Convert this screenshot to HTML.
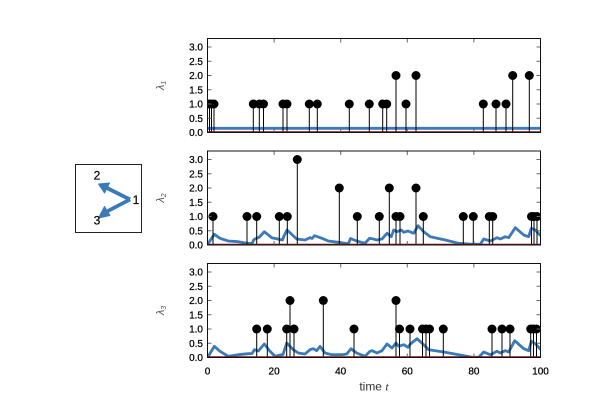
<!DOCTYPE html>
<html><head><meta charset="utf-8"><style>
html,body{margin:0;padding:0;background:#fff;}
svg{display:block;}
text{font-family:"Liberation Sans",sans-serif;}
</style></head><body>
<svg width="600" height="400" viewBox="0 0 600 400" xmlns="http://www.w3.org/2000/svg">
<rect width="600" height="400" fill="#fff"/>
<defs>
<clipPath id="c0"><rect x="207.5" y="38.5" width="333" height="94"/></clipPath>
<clipPath id="c1"><rect x="207.5" y="151" width="333" height="94"/></clipPath>
<clipPath id="c2"><rect x="207.5" y="263.5" width="333" height="94"/></clipPath>
</defs>

<!-- Network diagram -->
<rect x="75.5" y="164.5" width="66" height="68" fill="none" stroke="#222" stroke-width="1"/>
<g fill="#3a7ab8" stroke="#3a7ab8" stroke-linejoin="round">
<line x1="130" y1="199.5" x2="106" y2="187.5" stroke-width="3.8"/>
<polygon points="98.5,184 109.5,183 104.5,193" stroke-width="1"/>
<line x1="130" y1="199.5" x2="106" y2="212" stroke-width="3.8"/>
<polygon points="98.5,218 104.5,206.5 110,215.5" stroke-width="1"/>
</g>
<g font-size="12" text-anchor="middle" fill="#000" stroke="#000" stroke-width="0.2">
<text x="97" y="179.5">2</text>
<text x="136" y="204">1</text>
<text x="97" y="224.5">3</text>
</g>

<!-- ===== Panel 0 ===== -->
<g clip-path="url(#c0)">
<line x1="207.5" y1="128.3" x2="540.5" y2="128.3" stroke="#3a7ab8" stroke-width="2.8"/>
<g transform="translate(0,38.5)">
<path fill="none" stroke="#000" stroke-width="1" d="M209.5 94V65.5M211.5 94V65.5M214 94V65.5M253.3 94V65.5M259.3 94V65.5M263.5 94V65.5M283 94V65.5M287 94V65.5M309.3 94V65.5M317.3 94V65.5M349.3 94V65.5M369.3 94V65.5M382.7 94V65.5M386.7 94V65.5M396 94V37M406 94V65.5M416 94V37M483.3 94V65.5M496 94V65.5M506 94V65.5M512.7 94V37M529.3 94V37"/>
<line x1="207.5" y1="93.5" x2="540.5" y2="93.5" stroke="#7a1010" stroke-width="1.5"/>
<g fill="#000">
<circle cx="209.5" cy="65.5" r="4.5"/><circle cx="211.5" cy="65.5" r="4.5"/><circle cx="214" cy="65.5" r="4.5"/>
<circle cx="253.3" cy="65.5" r="4.5"/><circle cx="259.3" cy="65.5" r="4.5"/><circle cx="263.5" cy="65.5" r="4.5"/>
<circle cx="283" cy="65.5" r="4.5"/><circle cx="287" cy="65.5" r="4.5"/>
<circle cx="309.3" cy="65.5" r="4.5"/><circle cx="317.3" cy="65.5" r="4.5"/>
<circle cx="349.3" cy="65.5" r="4.5"/><circle cx="369.3" cy="65.5" r="4.5"/>
<circle cx="382.7" cy="65.5" r="4.5"/><circle cx="386.7" cy="65.5" r="4.5"/>
<circle cx="396" cy="37" r="4.5"/><circle cx="406" cy="65.5" r="4.5"/><circle cx="416" cy="37" r="4.5"/>
<circle cx="483.3" cy="65.5" r="4.5"/><circle cx="496" cy="65.5" r="4.5"/><circle cx="506" cy="65.5" r="4.5"/>
<circle cx="512.7" cy="37" r="4.5"/><circle cx="529.3" cy="37" r="4.5"/>
</g>
</g>
</g>

<!-- ===== Panel 1 ===== -->
<g clip-path="url(#c1)">
<polyline fill="none" stroke="#3a7ab8" stroke-width="2.8" stroke-linejoin="round" points="207.5,244.5 208.3,243.3 214.3,234.3 220,238.3 228.3,241 238.3,241.7 246.7,243.3 252,243.5 254,239.5 259.5,237 264.3,231.7 271.7,237.7 279,239.3 282.5,240 284,236 287,230 296.7,239 305,240 310,237.7 312,238.5 314.5,235.7 322,238.3 328.3,241 338.3,242.3 348.3,243.7 350.5,238.5 356.7,241 365,243.3 369.5,238.3 372,238.7 377,240 382,239 387,233.3 391.3,236.7 393.7,230 397,231.7 401.3,230 403.7,232.3 408,231 413.7,233.3 418,225.7 423.7,231.7 430.3,236.7 445.3,240 458.7,243.3 472,244.3 480.3,244.3 483.7,239 490.3,241 497,237.7 500.3,239 505.3,236.7 508.7,237.7 515.3,227.7 523.7,235 528.7,236.7 531.3,228.3 535.3,230 540.5,235.7"/>
<g transform="translate(0,151)">
<path fill="none" stroke="#000" stroke-width="1" d="M213 94V65.5M247 94V65.5M256.7 94V65.5M279.3 94V65.5M287.3 94V65.5M297.3 94V8.5M339.3 94V37M357.3 94V65.5M379.3 94V65.5M389.3 94V37M396 94V65.5M400 94V65.5M416 94V37M423.3 94V65.5M463.3 94V65.5M473.3 94V65.5M489.3 94V65.5M492.7 94V65.5M531.5 94V65.5M534 94V65.5M537 94V65.5"/>
<line x1="207.5" y1="93.5" x2="540.5" y2="93.5" stroke="#7a1010" stroke-width="1.5"/>
<g fill="#000">
<circle cx="213" cy="65.5" r="4.5"/><circle cx="247" cy="65.5" r="4.5"/><circle cx="256.7" cy="65.5" r="4.5"/>
<circle cx="279.3" cy="65.5" r="4.5"/><circle cx="287.3" cy="65.5" r="4.5"/><circle cx="297.3" cy="8.5" r="4.5"/>
<circle cx="339.3" cy="37" r="4.5"/><circle cx="357.3" cy="65.5" r="4.5"/><circle cx="379.3" cy="65.5" r="4.5"/>
<circle cx="389.3" cy="37" r="4.5"/><circle cx="396" cy="65.5" r="4.5"/><circle cx="400" cy="65.5" r="4.5"/>
<circle cx="416" cy="37" r="4.5"/><circle cx="423.3" cy="65.5" r="4.5"/><circle cx="463.3" cy="65.5" r="4.5"/>
<circle cx="473.3" cy="65.5" r="4.5"/><circle cx="489.3" cy="65.5" r="4.5"/><circle cx="492.7" cy="65.5" r="4.5"/>
<circle cx="531.5" cy="65.5" r="4.5"/><circle cx="534" cy="65.5" r="4.5"/><circle cx="537" cy="65.5" r="4.5"/>
</g>
</g>
</g>

<!-- ===== Panel 2 ===== -->
<g clip-path="url(#c2)">
<polyline fill="none" stroke="#3a7ab8" stroke-width="2.8" stroke-linejoin="round" points="207.5,357 208.3,356.3 214.3,346.3 220,351.3 228.3,356.3 238.3,354.7 248.3,353.7 252,353.5 254.5,349.7 258.3,351 264.3,344 270,351.3 275,356.3 279,355.3 283,354.5 286.7,343 293.3,349.7 298.3,353 305,354 310,349.7 313.3,348.7 316.7,350.7 320,346.3 325,353 331.7,354.7 341.7,354.7 346.7,354 351,348.7 356.7,353 365,356.3 370,351.3 372,350.7 377,353 382,350.7 387,344 392,348 396,343 398.7,346.3 403.7,344.7 408,347.3 410.3,344 417,338.7 423.7,344.7 428.7,349.7 443.7,352 458.7,354.7 472,357.3 478.7,357.3 483.7,352 490.3,354.7 497,351.3 500.3,353 505.3,350.7 508.7,352 514.7,340.7 523.7,348.7 528.7,350.7 531.3,341.3 535.3,343.7 540.5,349.5"/>
<g transform="translate(0,263.5)">
<path fill="none" stroke="#000" stroke-width="1" d="M256.7 94V65.5M267.3 94V65.5M286.7 94V65.5M290 94V37M294 94V65.5M323.3 94V37M354 94V65.5M396 94V37M399.5 94V65.5M410 94V65.5M422.5 94V65.5M426 94V65.5M429.5 94V65.5M443.3 94V65.5M492 94V65.5M502 94V65.5M510 94V65.5M530.7 94V65.5M533.5 94V65.5M536.5 94V65.5"/>
<line x1="207.5" y1="93.5" x2="540.5" y2="93.5" stroke="#7a1010" stroke-width="1.5"/>
<g fill="#000">
<circle cx="256.7" cy="65.5" r="4.5"/><circle cx="267.3" cy="65.5" r="4.5"/><circle cx="286.7" cy="65.5" r="4.5"/>
<circle cx="290" cy="37" r="4.5"/><circle cx="294" cy="65.5" r="4.5"/><circle cx="323.3" cy="37" r="4.5"/>
<circle cx="354" cy="65.5" r="4.5"/><circle cx="396" cy="37" r="4.5"/><circle cx="399.5" cy="65.5" r="4.5"/>
<circle cx="410" cy="65.5" r="4.5"/><circle cx="422.5" cy="65.5" r="4.5"/><circle cx="426" cy="65.5" r="4.5"/>
<circle cx="429.5" cy="65.5" r="4.5"/><circle cx="443.3" cy="65.5" r="4.5"/><circle cx="492" cy="65.5" r="4.5"/>
<circle cx="502" cy="65.5" r="4.5"/><circle cx="510" cy="65.5" r="4.5"/><circle cx="530.7" cy="65.5" r="4.5"/>
<circle cx="533.5" cy="65.5" r="4.5"/><circle cx="536.5" cy="65.5" r="4.5"/>
</g>
</g>
</g>

<!-- Frames, ticks, labels for each panel -->
<g>
<g transform="translate(0,38.5)">
<path fill="none" stroke="#666" stroke-width="1" d="M207.5 79.76h4M207.5 65.52h4M207.5 51.3h4M207.5 37.03h4M207.5 22.8h4M207.5 8.55h4M540.5 79.76h-4M540.5 65.52h-4M540.5 51.3h-4M540.5 37.03h-4M540.5 22.8h-4M540.5 8.55h-4M274.1 94v-4M340.7 94v-4M407.3 94v-4M473.9 94v-4M274.1 0v4M340.7 0v4M407.3 0v4M473.9 0v4"/>
<rect x="207.5" y="0" width="333" height="94" fill="none" stroke="#111" stroke-width="1"/>
<g font-size="10" text-anchor="end" fill="#000" stroke="#000" stroke-width="0.25">
<text x="203" y="97.5">0.0</text><text x="203" y="83.3">0.5</text><text x="203" y="69">1.0</text><text x="203" y="54.8">1.5</text><text x="203" y="40.5">2.0</text><text x="203" y="26.3">2.5</text><text x="203" y="12">3.0</text>
</g>
</g>
<g transform="translate(0,151)">
<path fill="none" stroke="#666" stroke-width="1" d="M207.5 79.76h4M207.5 65.52h4M207.5 51.3h4M207.5 37.03h4M207.5 22.8h4M207.5 8.55h4M540.5 79.76h-4M540.5 65.52h-4M540.5 51.3h-4M540.5 37.03h-4M540.5 22.8h-4M540.5 8.55h-4M274.1 94v-4M340.7 94v-4M407.3 94v-4M473.9 94v-4M274.1 0v4M340.7 0v4M407.3 0v4M473.9 0v4"/>
<rect x="207.5" y="0" width="333" height="94" fill="none" stroke="#111" stroke-width="1"/>
<g font-size="10" text-anchor="end" fill="#000" stroke="#000" stroke-width="0.25">
<text x="203" y="97.5">0.0</text><text x="203" y="83.3">0.5</text><text x="203" y="69">1.0</text><text x="203" y="54.8">1.5</text><text x="203" y="40.5">2.0</text><text x="203" y="26.3">2.5</text><text x="203" y="12">3.0</text>
</g>
</g>
<g transform="translate(0,263.5)">
<path fill="none" stroke="#666" stroke-width="1" d="M207.5 79.76h4M207.5 65.52h4M207.5 51.3h4M207.5 37.03h4M207.5 22.8h4M207.5 8.55h4M540.5 79.76h-4M540.5 65.52h-4M540.5 51.3h-4M540.5 37.03h-4M540.5 22.8h-4M540.5 8.55h-4M274.1 94v-4M340.7 94v-4M407.3 94v-4M473.9 94v-4M274.1 0v4M340.7 0v4M407.3 0v4M473.9 0v4"/>
<rect x="207.5" y="0" width="333" height="94" fill="none" stroke="#111" stroke-width="1"/>
<g font-size="10" text-anchor="end" fill="#000" stroke="#000" stroke-width="0.25">
<text x="203" y="97.5">0.0</text><text x="203" y="83.3">0.5</text><text x="203" y="69">1.0</text><text x="203" y="54.8">1.5</text><text x="203" y="40.5">2.0</text><text x="203" y="26.3">2.5</text><text x="203" y="12">3.0</text>
</g>
</g>
</g>

<!-- x tick labels -->
<g font-size="10" text-anchor="middle" fill="#000" stroke="#000" stroke-width="0.25">
<text x="207.5" y="374.5">0</text><text x="274.1" y="374.5">20</text><text x="340.7" y="374.5">40</text><text x="407.3" y="374.5">60</text><text x="473.9" y="374.5">80</text><text x="540.5" y="374.5">100</text>
</g>
<text x="374" y="390.5" font-size="12" text-anchor="middle" fill="#333">time <tspan font-family="Liberation Serif, serif" font-style="italic">t</tspan></text>

<!-- y axis labels -->
<g fill="#555" font-family="Liberation Serif, serif" font-style="italic" font-size="11" text-anchor="middle">
<text transform="translate(164,85.5) rotate(-90)">λ<tspan font-size="7" dy="2">1</tspan></text>
<text transform="translate(164,198) rotate(-90)">λ<tspan font-size="7" dy="2">2</tspan></text>
<text transform="translate(164,310.5) rotate(-90)">λ<tspan font-size="7" dy="2">3</tspan></text>
</g>
</svg>
</body></html>
